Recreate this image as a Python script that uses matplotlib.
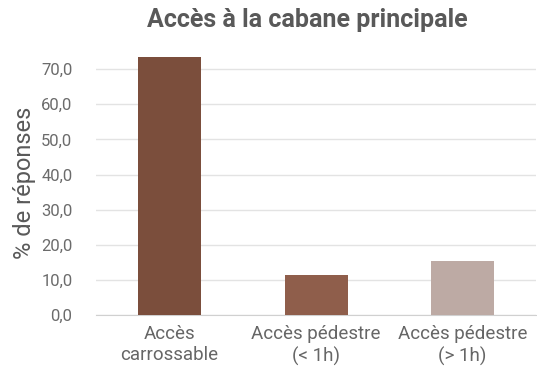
import matplotlib
matplotlib.use('Agg')
import matplotlib.pyplot as plt

categories = ['Accès\ncarrossable', 'Accès pédestre\n(< 1h)', 'Accès pédestre\n(> 1h)']
values = [73.3, 11.3, 15.5]
colors = ['#7B4E3C', '#8F5E4B', '#BDAAA4']
yticks = [0, 10, 20, 30, 40, 50, 60, 70]

plt.rcParams['font.family'] = ['Roboto', 'DejaVu Sans']
text_color = '#595959'

fig = plt.figure(figsize=(5.37, 3.76), dpi=100)
ax = fig.add_axes([0.179, 0.162, 0.819, 0.701])

x = range(len(categories))
ax.bar(x, values, width=0.43, color=colors, zorder=3)

ax.set_xlim(-0.5, len(categories) - 0.5)
ax.set_ylim(0, 75)
ax.set_yticks(yticks)
ax.set_yticklabels([f'{v:.1f}'.replace('.', ',') for v in yticks])
ax.set_xticks(list(x))
ax.set_xticklabels(categories, linespacing=1.25)
ax.tick_params(axis='y', length=0, labelsize=12, colors='#6B6B6B', pad=17)
ax.tick_params(axis='x', length=0, labelsize=13.5, colors='#666666', pad=7)

ax.grid(axis='y', color='#E3E3E3', linewidth=1, zorder=0)
for s in ['top', 'right', 'left']:
    ax.spines[s].set_visible(False)
ax.spines['bottom'].set_color('#D0D0D0')

ax.set_ylabel('% de réponses', fontsize=17, color=text_color, labelpad=4)
fig.text(307 / 537, 1 - 20 / 376, 'Accès à la cabane principale', ha='center', va='center',
         fontsize=18, fontweight='bold', color=text_color)

fig.savefig('out.png', dpi=100)
